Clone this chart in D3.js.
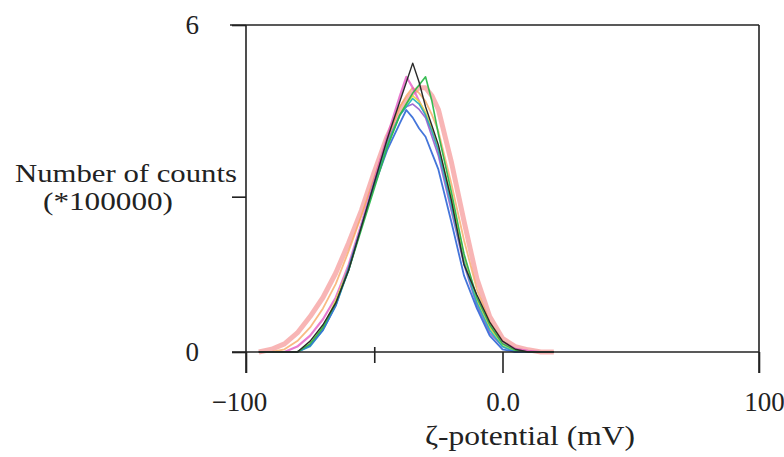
<html>
    <head>
        <style>
            body { margin: 0; background: #fff; }
            text { font-family: "Liberation Serif", "Times New Roman", serif; fill: #222; }
            .axis path, .axis line { fill: none; stroke: #222; stroke-width: 1.6px; }
        </style>
    </head>
    <body>
        <div id="chart"></div>
        <script src="https://d3js.org/d3.v7.min.js"></script>
        <script>
            // zeta potential grid (mV)
            const potential = [-95, -90, -85, -80, -75, -70, -65, -60, -55, -50, -45, -40, -37.5, -35,
                -32.5, -30, -27.5, -25, -20, -15, -10, -5, 0, 5, 10, 15, 20];

            // counts (*100000), one array per measurement
            const redRun    = [0, 0.05, 0.15, 0.35, 0.65, 1.0, 1.45, 2.0, 2.6, 3.3, 3.95, 4.45, 4.62, 4.75, 4.85, 4.85, 4.7, 4.45, 3.5, 2.4, 1.35, 0.65, 0.25, 0.1, 0.04, 0, 0];
            const orangeRun = [0, 0, 0.05, 0.2, 0.45, 0.8, 1.25, 1.85, 2.5, 3.2, 3.9, 4.5, 4.7, 4.85, 4.75, 4.6, 4.35, 4.05, 3.1, 2.05, 1.15, 0.55, 0.2, 0.05, 0, 0, 0];
            const pinkRun   = [0, 0, 0, 0.1, 0.3, 0.6, 1.0, 1.6, 2.35, 3.15, 3.95, 4.7, 5.05, 4.85, 4.6, 4.35, 4.05, 3.7, 2.8, 1.75, 0.95, 0.45, 0.18, 0.06, 0.02, 0, 0];
            const purpleRun = [0, 0, 0, 0, 0.12, 0.45, 0.9, 1.5, 2.3, 3.1, 3.85, 4.35, 4.5, 4.55, 4.45, 4.3, 3.95, 3.6, 2.6, 1.6, 0.85, 0.35, 0.1, 0, 0, 0, 0];
            const yellowRun = [0, 0, 0, 0, 0.15, 0.45, 0.95, 1.55, 2.3, 3.05, 3.8, 4.35, 4.55, 4.7, 4.6, 4.4, 4.1, 3.75, 2.85, 1.7, 0.95, 0.45, 0.12, 0, 0, 0, 0];
            const cyanRun   = [0, 0, 0, 0, 0.1, 0.4, 0.85, 1.5, 2.3, 3.1, 3.8, 4.35, 4.5, 4.65, 4.55, 4.35, 4.05, 3.7, 2.7, 1.65, 0.9, 0.4, 0.1, 0, 0, 0, 0];
            const blueRun   = [0, 0, 0, 0, 0.12, 0.4, 0.85, 1.55, 2.3, 3.05, 3.7, 4.2, 4.44, 4.3, 4.1, 3.95, 3.65, 3.35, 2.4, 1.4, 0.8, 0.3, 0.05, 0, 0, 0, 0];
            const greenRun  = [0, 0, 0, 0, 0.15, 0.45, 0.9, 1.5, 2.25, 3.0, 3.75, 4.35, 4.55, 4.75, 4.9, 5.05, 4.6, 4.0, 2.95, 1.8, 1.0, 0.5, 0.15, 0.03, 0, 0, 0];
            const blackRun  = [0, 0, 0, 0, 0.2, 0.5, 0.9, 1.5, 2.3, 3.1, 3.9, 4.6, 4.95, 5.3, 4.95, 4.5, 4.15, 3.8, 2.8, 1.6, 1.05, 0.55, 0.2, 0.05, 0, 0, 0];

            const xTicks = [-100, -50, 0, 100];
            const xTickLabels = ['\u2212100', '', '0.0', '100'];
            const yTicks = [0, 2.85, 6];
            const yTickLabels = ['0', '', '6'];

            const series = [
                { values: redRun, color: '#f05a5a', width: 5, opacity: 0.45 },
                { values: orangeRun, color: '#f5a35a', width: 1.8, opacity: 0.75 },
                { values: pinkRun, color: '#e45bc4', width: 2.2, opacity: 0.8 },
                { values: purpleRun, color: '#8e55cc', width: 1.6, opacity: 0.85 },
                { values: yellowRun, color: '#e6dc3c', width: 1.6, opacity: 0.9 },
                { values: cyanRun, color: '#1eb3b8', width: 1.6, opacity: 0.9 },
                { values: blueRun, color: '#3a6ed8', width: 1.8, opacity: 0.95 },
                { values: greenRun, color: '#2cb84a', width: 1.6, opacity: 0.95 },
                { values: blackRun, color: '#2a2a2a', width: 1.4, opacity: 1 }
            ];

            const margin = { top: 25, right: 25, bottom: 105, left: 246 },
                width = 784 - margin.left - margin.right,
                height = 457 - margin.top - margin.bottom;

            const xScale = d3.scaleLinear().domain([-100, 100]).range([0, width]);
            const yScale = d3.scaleLinear().domain([0, 6]).range([height, 0]);

            const svg = d3.select('#chart')
                .append('svg')
                .attr('width', 784)
                .attr('height', 457)
                .append('g')
                .attr('transform', `translate(${margin.left},${margin.top})`);

            // curves
            const line = d3.line()
                .x((d, i) => xScale(potential[i]))
                .y(d => yScale(d));

            svg.selectAll('.run')
                .data(series)
                .enter()
                .append('path')
                .attr('class', 'run')
                .attr('d', d => line(d.values))
                .attr('fill', 'none')
                .attr('stroke', d => d.color)
                .attr('stroke-width', d => d.width)
                .attr('stroke-opacity', d => d.opacity)
                .attr('stroke-linejoin', 'round');

            // frame
            const frame = svg.append('g').attr('class', 'axis');
            frame.append('line').attr('x1', -16).attr('x2', width).attr('y1', 0).attr('y2', 0);
            frame.append('line').attr('x1', width).attr('x2', width).attr('y1', 0).attr('y2', height + 21);
            frame.append('line').attr('x1', 0).attr('x2', 0).attr('y1', 0).attr('y2', height + 21);
            frame.append('line').attr('x1', -14).attr('x2', width).attr('y1', height).attr('y2', height);

            // x axis
            const xAxis = svg.append('g')
                .attr('class', 'x axis')
                .attr('transform', `translate(0,${height})`)
                .call(d3.axisBottom(xScale)
                    .tickValues(xTicks)
                    .tickSizeInner(21)
                    .tickSizeOuter(0)
                    .tickPadding(19)
                    .tickFormat((d, i) => xTickLabels[i]));
            xAxis.select('.domain').remove();
            xAxis.selectAll('.tick line')
                .attr('y1', d => d === -50 ? -5 : 0)
                .attr('y2', d => d === -50 ? 11 : 21);
            xAxis.selectAll('.tick text')
                .style('font-size', '27px')
                .attr('fill', '#222')
                .attr('dx', d => d === -100 ? -7 : (d === 100 ? 5 : 0));

            // y axis
            const yAxis = svg.append('g')
                .attr('class', 'y axis')
                .call(d3.axisLeft(yScale)
                    .tickValues(yTicks)
                    .tickSizeInner(14)
                    .tickSizeOuter(0)
                    .tickPadding(33)
                    .tickFormat((d, i) => yTickLabels[i]));
            yAxis.select('.domain').remove();
            yAxis.selectAll('.tick text')
                .style('font-size', '27px')
                .attr('fill', '#222');

            // titles
            svg.append('text')
                .attr('x', 15 - margin.left)
                .attr('y', 182 - margin.top)
                .attr('textLength', 222)
                .attr('lengthAdjust', 'spacingAndGlyphs')
                .style('font-size', '25px')
                .text('Number of counts');
            svg.append('text')
                .attr('x', 43 - margin.left)
                .attr('y', 210 - margin.top)
                .attr('textLength', 130)
                .attr('lengthAdjust', 'spacingAndGlyphs')
                .style('font-size', '25px')
                .text('(*100000)');
            svg.append('text')
                .attr('x', 425 - margin.left)
                .attr('y', 445 - margin.top)
                .attr('textLength', 210)
                .attr('lengthAdjust', 'spacingAndGlyphs')
                .style('font-size', '28px')
                .text('\u03b6-potential (mV)');
        </script>
    </body>
</html>
